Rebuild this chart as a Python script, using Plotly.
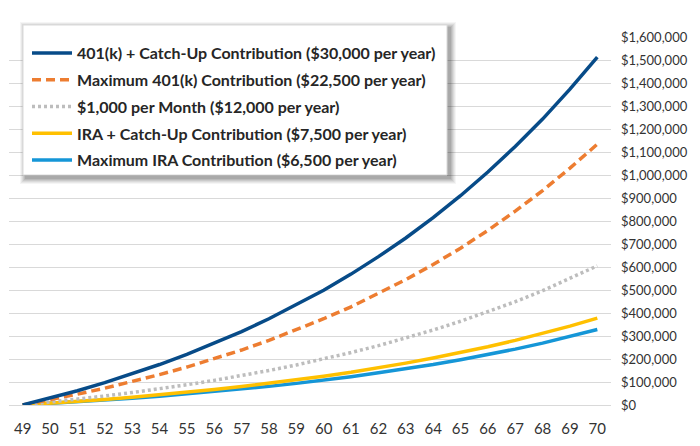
import plotly.graph_objects as go

ages = list(range(49, 71))

catchup_401k = [0, 30000, 62000, 97000, 135000, 176000, 220000, 268000, 319000, 375000, 435000,
                499000, 569000, 645000, 726000, 815000, 910000, 1013000, 1124000, 1243000, 1373000, 1513000]
max_401k = [0, 22500, 47000, 73000, 101000, 132000, 165000, 201000, 239000, 281000, 326000,
            375000, 427000, 484000, 545000, 611000, 682000, 759000, 843000, 932000, 1030000, 1134000]
monthly_1000 = [0, 12000, 25000, 39000, 54000, 70000, 88000, 107000, 128000, 150000, 174000,
                200000, 228000, 258000, 291000, 326000, 364000, 405000, 449000, 497000, 549000, 605000]
ira_catchup = [0, 7500, 15600, 24000, 34000, 44000, 55000, 67000, 80000, 94000, 109000,
               125000, 142000, 161000, 182000, 204000, 227000, 253000, 281000, 311000, 343000, 378000]
max_ira = [0, 6500, 13500, 21000, 29000, 38000, 48000, 58000, 69000, 81000, 94000,
           108000, 123000, 140000, 157000, 176000, 197000, 219000, 243000, 269000, 297000, 328000]

names = [
    "401(k) + Catch-Up Contribution ($30,000 per year)",
    "Maximum 401(k) Contribution ($22,500 per year)",
    "$1,000 per Month ($12,000 per year)",
    "IRA + Catch-Up Contribution ($7,500 per year)",
    "Maximum IRA Contribution ($6,500 per year)",
]
series = [catchup_401k, max_401k, monthly_1000, ira_catchup, max_ira]
colors = ["#074B88", "#ED7D31", "#BDBDBD", "#FFC000", "#1596D7"]
dashes = ["solid", "9px,5px", "3px,3px", "solid", "solid"]
y_ticks = list(range(0, 1600001, 100000))

fig = go.Figure()
# draw in reverse so the first series is on top
for i in reversed(range(len(series))):
    fig.add_trace(go.Scatter(
        x=ages, y=series[i], name=names[i], mode="lines",
        line=dict(color=colors[i], width=3.5, dash=dashes[i]),
        legendgroup=f"g{i}", legendrank=i + 1,
    ))

L, R, T, B = 9, 89, 37, 41
W, H = 700, 446
pw, ph = W - L - R, H - T - B

def px(x):
    return (x - L) / pw

def py(y):
    return (H - B - y) / ph

# legend box with soft shadow
box = (23, 25, 447, 175)
shapes = []
for k, op in [(6, 0.04), (5, 0.05), (4, 0.06), (3, 0.07), (2, 0.08), (1, 0.09)]:
    shapes.append(dict(type="rect", xref="paper", yref="paper",
                       x0=px(box[0] - k + 3), x1=px(box[2] + k + 3),
                       y0=py(box[3] + k + 3), y1=py(box[1] - k + 3),
                       fillcolor=f"rgba(0,0,0,{op})", line=dict(width=0), layer="above"))
shapes.append(dict(type="rect", xref="paper", yref="paper",
                   x0=px(box[0]), x1=px(box[2]), y0=py(box[3]), y1=py(box[1]),
                   fillcolor="white", line=dict(color="#D9D9D9", width=1), layer="above"))

fig.update_layout(
    width=W, height=H,
    margin=dict(l=L, r=R, t=T, b=B, autoexpand=False),
    paper_bgcolor="white", plot_bgcolor="white",
    font=dict(family="Lato, sans-serif", color="#404040"),
    shapes=shapes,
    showlegend=True,
    legend=dict(
        x=px(box[0] + 4), y=py(box[1] + 11), xanchor="left", yanchor="top",
        bgcolor="rgba(0,0,0,0)", borderwidth=0,
        font=dict(family="Lato, sans-serif", size=16, color="#262626", weight="bold"),
        tracegroupgap=3, itemwidth=40,
    ),
    xaxis=dict(
        range=[48.5, 70.5], tickmode="linear", tick0=49, dtick=1,
        showgrid=False, zeroline=False, showline=False, automargin=False,
        tickfont=dict(family="Lato, sans-serif", size=15, color="#333333"),
        ticks="", ticklabelstandoff=13,
    ),
    yaxis=dict(
        side="right", range=[0, 1600000], tickvals=y_ticks, tickformat="$,.0f",
        showgrid=True, gridcolor="#D9D9D9", gridwidth=1, automargin=False,
        zeroline=True, zerolinecolor="#D9D9D9", zerolinewidth=1,
        showline=False, ticks="", ticklabelstandoff=9,
        tickfont=dict(family="Lato, sans-serif", size=13, color="#333333"),
    ),
)

fig.write_html("out.html")
